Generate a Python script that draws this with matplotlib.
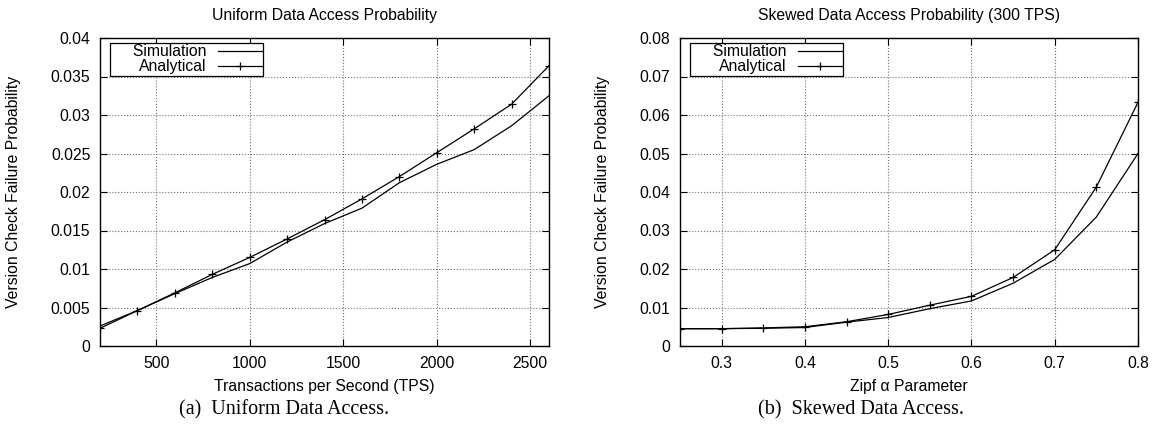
import matplotlib
matplotlib.use('Agg')
import matplotlib.pyplot as plt

# (a) uniform access
tps = [200, 400, 600, 800, 1000, 1200, 1400, 1600, 1800, 2000, 2200, 2400, 2600]
uni_sim = [0.0026, 0.0046, 0.0068, 0.0089, 0.0107, 0.0135, 0.0159, 0.0179, 0.0212, 0.0236, 0.0255, 0.0286, 0.0325]
uni_ana = [0.0023, 0.0046, 0.0069, 0.0093, 0.0115, 0.0139, 0.0164, 0.0191, 0.0220, 0.0251, 0.0282, 0.0314, 0.0364]

# (b) skewed access
alpha = [0.25, 0.30, 0.35, 0.40, 0.45, 0.50, 0.55, 0.60, 0.65, 0.70, 0.75, 0.80]
skw_sim = [0.0045, 0.0045, 0.0046, 0.0048, 0.0062, 0.0074, 0.0097, 0.0117, 0.0163, 0.0225, 0.0335, 0.0500]
skw_ana = [0.0045, 0.0045, 0.0047, 0.0050, 0.0063, 0.0082, 0.0106, 0.0129, 0.0178, 0.0250, 0.0413, 0.0633]

plt.rcParams['font.family'] = ['Liberation Sans', 'DejaVu Sans']
FS = 11.3

fig = plt.figure(figsize=(11.56, 4.32), dpi=100)
ax1 = fig.add_axes([100 / 1156, 86 / 432, 449 / 1156, 308 / 432])
ax2 = fig.add_axes([680 / 1156, 86 / 432, 458 / 1156, 308 / 432])


def style(ax, xlim, ylim, xticks, yticks, title, xlabel):
    ax.set_xlim(*xlim)
    ax.set_ylim(*ylim)
    ax.set_xticks(xticks)
    ax.set_yticks(yticks)
    ax.set_xticklabels(['%g' % v for v in xticks])
    ax.set_yticklabels(['%g' % v for v in yticks])
    ax.grid(True, linestyle=':', color='0.45', linewidth=0.8)
    ax.tick_params(direction='in', top=True, right=True, length=5, width=0.8,
                   labelsize=FS, pad=7)
    for s in ax.spines.values():
        s.set_linewidth(1.0)
    ax.set_title(title, fontsize=FS, pad=13)
    ax.set_xlabel(xlabel, fontsize=FS, labelpad=6)
    ax.set_ylabel('Version Check Failure Probability', fontsize=FS)
    w = ax.get_position().width * 1156
    leg = ax.legend(loc='upper left', bbox_to_anchor=(10 / w, 1 - 5 / 308),
                    markerfirst=False, fancybox=False,
                    edgecolor='black', framealpha=1, fontsize=FS,
                    handlelength=2.8, borderpad=0.08, labelspacing=0.0,
                    borderaxespad=0, handletextpad=0.7)
    leg.get_frame().set_linewidth(0.9)


ax1.plot(tps, uni_sim, color='black', lw=0.9, label='     Simulation')
ax1.plot(tps, uni_ana, color='black', lw=0.9, marker='+', ms=6, mew=0.9,
         label='Analytical')
style(ax1, (200, 2600), (0, 0.04), [500, 1000, 1500, 2000, 2500],
      [0, 0.005, 0.01, 0.015, 0.02, 0.025, 0.03, 0.035, 0.04],
      'Uniform Data Access Probability', 'Transactions per Second (TPS)')
ax1.yaxis.set_label_coords(-79 / 449, 0.5)

ax2.plot(alpha, skw_sim, color='black', lw=0.9, label='     Simulation')
ax2.plot(alpha, skw_ana, color='black', lw=0.9, marker='+', ms=6, mew=0.9,
         label='Analytical')
style(ax2, (0.25, 0.8), (0, 0.08), [0.3, 0.4, 0.5, 0.6, 0.7, 0.8],
      [0, 0.01, 0.02, 0.03, 0.04, 0.05, 0.06, 0.07, 0.08],
      'Skewed Data Access Probability (300 TPS)', 'Zipf α Parameter')
ax2.yaxis.set_label_coords(-70 / 458, 0.5)

fig.text(284 / 1156, 22 / 432, '(a)  Uniform Data Access.', ha='center',
         va='center', fontsize=14.5, family='Liberation Serif')
fig.text(861 / 1156, 22 / 432, '(b)  Skewed Data Access.', ha='center',
         va='center', fontsize=14.5, family='Liberation Serif')

fig.savefig('out.png', dpi=100)
